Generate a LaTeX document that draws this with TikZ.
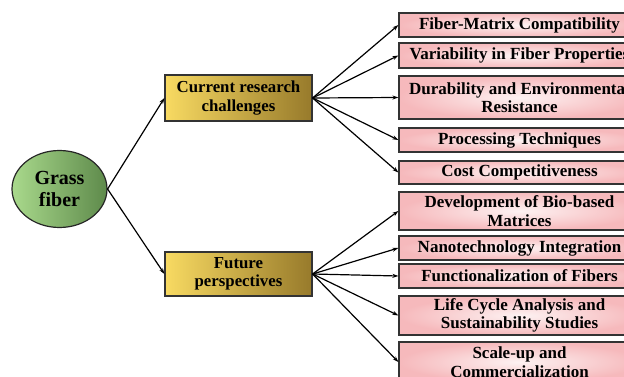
\documentclass[tikz,border=0pt]{standalone}
\usepackage{fontspec}
\setmainfont{Liberation Serif}
\usetikzlibrary{arrows.meta,shapes.geometric}
\definecolor{grasslight}{HTML}{A9D98C}
\definecolor{grassdark}{HTML}{5E8A4B}
\definecolor{goldlight}{HTML}{F8DA62}
\definecolor{golddark}{HTML}{977A2B}
\definecolor{pinkedge}{HTML}{F6B9BC}
\definecolor{pinkcore}{HTML}{FDF2F2}
\begin{document}
\begin{tikzpicture}[x=1pt, y=-1pt, >={Stealth[length=6pt,width=4pt]},
    link/.style={->, line width=1.2pt},
    pinkbox/.style={draw=black!80, line width=1.2pt, inner color=pinkcore, outer color=pinkedge,
        minimum width=241pt, inner sep=0pt, align=center,
        font=\fontsize{17}{18.5}\selectfont\bfseries},
    goldbox/.style={draw=black!80, line width=1.2pt, left color=goldlight, right color=golddark,
        minimum width=147pt, inner sep=0pt, align=center,
        font=\fontsize{16.8}{18.5}\selectfont\bfseries}]
    \useasboundingbox (0,0) rectangle (624,377);
    % Root
    \node[ellipse, draw=black!85, line width=1.2pt, left color=grasslight, right color=grassdark,
        minimum width=95pt, minimum height=77pt, inner sep=0pt, align=center,
        font=\fontsize{20}{22}\selectfont\bfseries] (grass) at (59.5,189) {Grass\\fiber};
    % Branches
    \node[goldbox, minimum height=46pt] (cur) at (238.5,98) {Current research\\challenges};
    \node[goldbox, minimum height=44pt] (fut) at (238.5,274) {Future\\perspectives};
    \draw[link] (grass.east) -- (cur.west);
    \draw[link] (grass.east) -- (fut.west);
    % Leaves
    \foreach \n/\y/\h/\t in {c1/25/24/{Fiber-Matrix Compatibility},
            c2/55.5/25/{Variability in Fiber Properties},
            c3/97.5/43/{Durability and Environmental\\Resistance},
            c4/140/24/{Processing Techniques},
            c5/172.5/23/{Cost Competitiveness}} {
        \node[pinkbox, minimum height=\h pt] (\n) at (519.5,\y) {\t};
        \draw[link] (cur.east) -- (\n.west);
    }
    \foreach \n/\y/\h/\t in {f1/211/38/{Development of Bio-based\\Matrices},
            f2/248/24/{Nanotechnology Integration},
            f3/276/24/{Functionalization of Fibers},
            f4/315.5/39/{Life Cycle Analysis and\\Sustainability Studies},
            f5/362/40/{Scale-up and\\Commercialization}} {
        \node[pinkbox, minimum height=\h pt] (\n) at (519.5,\y) {\t};
        \draw[link] (fut.east) -- (\n.west);
    }
\end{tikzpicture}
\end{document}
